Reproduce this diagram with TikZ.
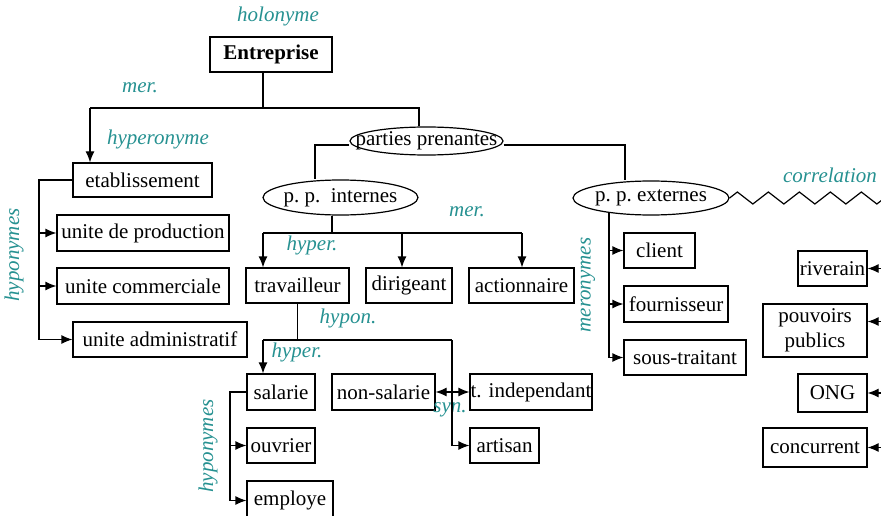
\documentclass[tikz,border=0pt]{standalone}
\usepackage{fontspec}
\setmainfont{Liberation Serif}
\usetikzlibrary{arrows.meta,shapes.geometric,decorations.pathmorphing}
\definecolor{reltext}{RGB}{38,145,145}

\begin{document}
\begin{tikzpicture}[x=1pt,y=-1pt,
		box/.style={draw,line width=1.2pt,inner sep=0pt,font=\fontsize{21}{25}\selectfont},
		pill/.style={ellipse,draw,line width=1.2pt,inner sep=0pt,font=\fontsize{21}{25}\selectfont},
		rel/.style={text=reltext,inner sep=0pt,font=\fontsize{21}{25}\selectfont\itshape},
		link/.style={line width=1.2pt},
		arr/.style={line width=1.2pt,-{Latex[length=11pt,width=9pt]}}]
		
		\useasboundingbox (0,0) rectangle (881,516);
		
		% top of the tree
		\node (ent) at (271,54.5) [box,line width=2.6pt,minimum width=122,minimum height=35] {\textbf{Entreprise}};
		\node (holo) at (278,16) [rel] {holonyme};
		\node (mer1) at (140,88) [rel] {mer.};
		\node (hyperonyme) at (158,139) [rel] {hyperonyme};
		\node (pp) at (426.5,141) [pill,minimum width=153,minimum height=28] {\makebox[0pt]{parties prenantes}};
		\node (ppi) at (340.5,197.5) [pill,minimum width=155,minimum height=35] {\makebox[0pt]{p.\ p.\ \ internes}};
		\node (ppe) at (651,198) [pill,minimum width=156,minimum height=34] {\makebox[0pt]{p.\ p.\ externes}};
		\node (corr) at (830,175) [rel] {correlation};
		
		% etablissement
		\node (etab) at (142.5,180) [box,minimum width=139,minimum height=34] {etablissement};
		\node (uprod) at (143,233) [box,minimum width=172,minimum height=36] {unite de production};
		\node (ucomm) at (143,286) [box,minimum width=172,minimum height=36] {unite commerciale};
		\node (uadm) at (160,339.5) [box,minimum width=174,minimum height=35] {unite administratif};
		\node (hypo1) at (14,255) [rel,rotate=90] {hyponymes};
		
		% p. p. internes
		\node (mer2) at (467,212) [rel] {mer.};
		\node (hyper1) at (312,245) [rel] {hyper.};
		\node (trav) at (297.5,285.5) [box,minimum width=103,minimum height=35] {travailleur};
		\node (dir) at (409,285.5) [box,minimum width=86,minimum height=35] {dirigeant};
		\node (act) at (521.5,285.5) [box,minimum width=105,minimum height=35] {actionnaire};
		\node (hypon) at (348,318) [rel] {hypon.};
		\node (hyper2) at (297,352) [rel] {hyper.};
		\node (sal) at (281,392) [box,minimum width=68,minimum height=36] {salarie};
		\node (nons) at (383.5,392) [box,minimum width=103,minimum height=36] {non-salarie};
		\node (tind) at (531,392) [box,minimum width=122,minimum height=36] {t. independant};
		\node (syn) at (450,410) [rel] {syn.};
		\node (art) at (504.5,445.5) [box,minimum width=69,minimum height=35] {artisan};
		\node (ouv) at (281,445.5) [box,minimum width=68,minimum height=35] {ouvrier};
		\node (empl) at (290,500.5) [box,minimum width=86,minimum height=39] {employe};
		\node (hypo2) at (208,446) [rel,rotate=90] {hyponymes};
		
		% p. p. externes
		\node (mero) at (588,285) [rel,rotate=90] {meronymes};
		\node (cli) at (659.5,250.5) [box,minimum width=71,minimum height=35] {client};
		\node (four) at (676,304) [box,minimum width=104,minimum height=36] {fournisseur};
		\node (sous) at (685,357.5) [box,minimum width=122,minimum height=35] {sous-traitant};
		\node (riv) at (832.5,268.5) [box,minimum width=69,minimum height=35] {riverain};
		\node (pouv) at (815,330.5) [box,minimum width=104,minimum height=53,align=center] {pouvoirs\\publics};
		\node (ong) at (832.5,393) [box,minimum width=69,minimum height=38] {ONG};
		\node (conc) at (815,447.5) [box,minimum width=104,minimum height=39] {concurrent};
		
		% bend points
		\coordinate (a1) at (90,108);
		\coordinate (a2) at (263,108);
		\coordinate (a3) at (419,108);
		\coordinate (b1) at (315,145);
		\coordinate (b2) at (625,145);
		\coordinate (d0) at (332,233);
		\coordinate (d1) at (263,233);
		\coordinate (d2) at (402,233);
		\coordinate (d3) at (522,233);
		\coordinate (h1) at (263,340);
		\coordinate (h2) at (452,340);
		\coordinate (g) at (39,180);
		\coordinate (k) at (230,392);
		\coordinate (m) at (609,212);
		
		\draw[link] (a2 |- ent.south) -- (a2);
		\draw[link] (a1) -- (a3) -- (a3 |- pp.north);
		\draw[arr] (a1) -- (a1 |- etab.north);
		\draw[link] (pp.west |- b1) -- (b1) -- (b1 |- ppi.north);
		\draw[link] (pp.east |- b2) -- (b2) -- (b2 |- ppe.north);
		\draw[link,decorate,decoration={zigzag,segment length=31,amplitude=6}] (ppe.east) -- ++(170,0);
		
		\draw[arr] (etab.west) -- (g) |- (uadm.west);
		\draw[arr] (g |- uprod.west) -- (uprod.west);
		\draw[arr] (g |- ucomm.west) -- (ucomm.west);
		
		\draw[link] (d0 |- ppi.south) -- (d0);
		\draw[link] (d1) -- (d3);
		\draw[arr] (d1) -- (d1 |- trav.north);
		\draw[arr] (d2) -- (d2 |- dir.north);
		\draw[arr] (d3) -- (d3 |- act.north);
		
		\draw[link] (trav.south) -- (trav.south |- h1);
		\draw[link] (h1) -- (h2);
		\draw[arr] (h1) -- (h1 |- sal.north);
		\draw[arr] (h2) |- (art.west);
		\draw[arr] (h2 |- nons.east) -- (nons.east);
		\draw[arr] (h2 |- tind.west) -- (tind.west);
		
		\draw[arr] (sal.west) -- (k) |- (empl.west);
		\draw[arr] (k |- ouv.west) -- (ouv.west);
		
		\draw[arr] (m) |- (sous.west);
		\draw[arr] (m |- cli.west) -- (cli.west);
		\draw[arr] (m |- four.west) -- (four.west);
		
		\foreach \n in {riv,ong,conc}
			\draw[arr] (\n.east) ++(16,0) -- (\n.east);
		\draw[arr] ([yshift=9pt]pouv.east) ++(16,0) -- ([yshift=9pt]pouv.east);
		
	\end{tikzpicture}
\end{document}
